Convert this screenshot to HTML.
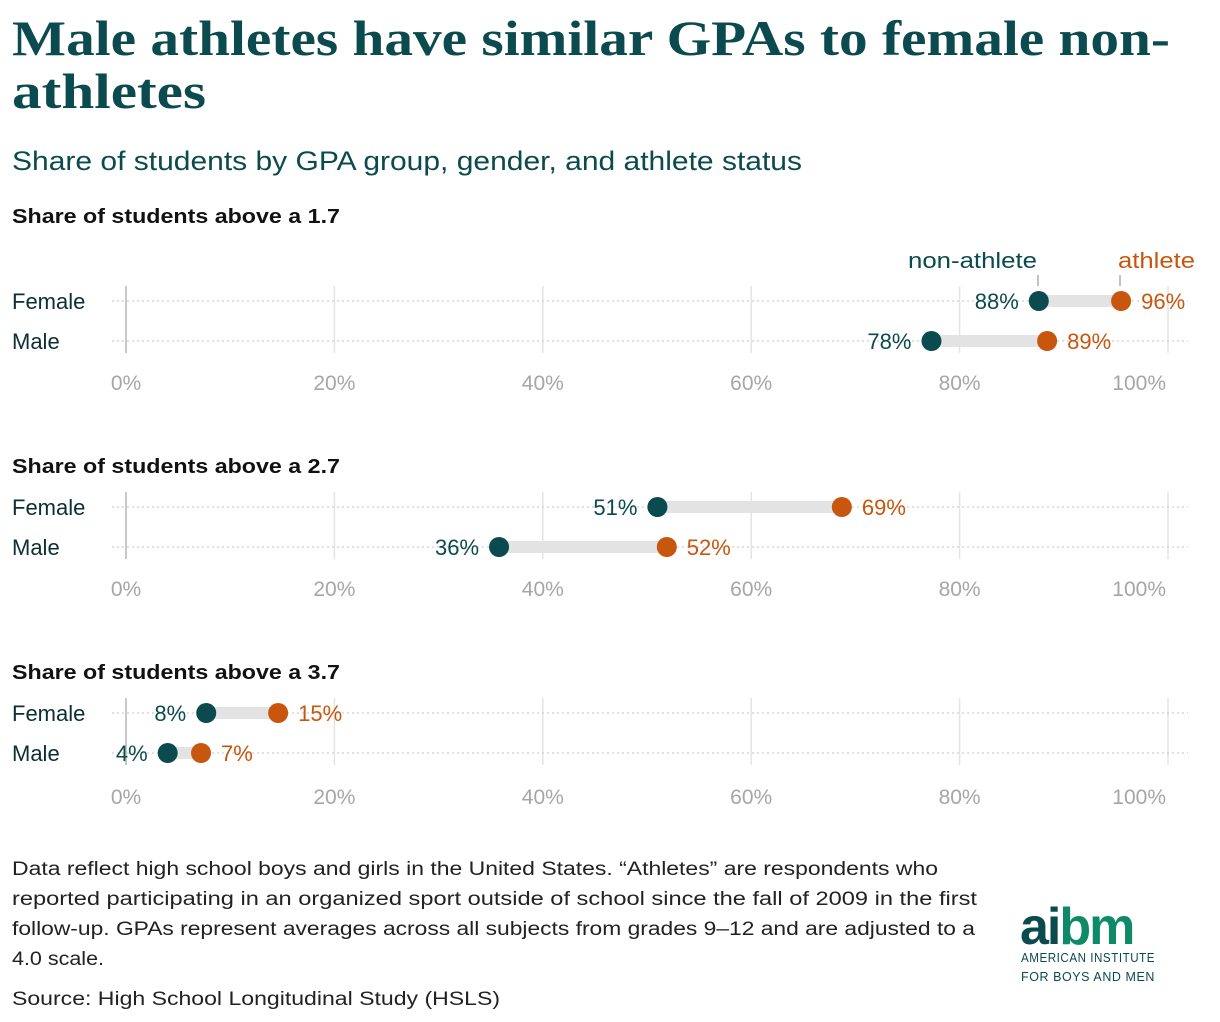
<!DOCTYPE html>
<html><head><meta charset="utf-8"><style>
html,body{margin:0;padding:0;background:#fff;}
svg{display:block;font-family:"Liberation Sans",sans-serif;}
</style></head><body>
<svg id="chart" width="1220" height="1022" viewBox="0 0 1220 1022" xmlns="http://www.w3.org/2000/svg">
<text x="12" y="55" font-family="Liberation Serif, serif" font-weight="bold" font-size="50" fill="#0b4a4e" textLength="1158" lengthAdjust="spacingAndGlyphs">Male athletes have similar GPAs to female non-</text>
<text x="12" y="108" font-family="Liberation Serif, serif" font-weight="bold" font-size="50" fill="#0b4a4e" textLength="194" lengthAdjust="spacingAndGlyphs">athletes</text>
<text x="12" y="170" font-size="27" fill="#0b4a4e" textLength="790" lengthAdjust="spacingAndGlyphs">Share of students by GPA group, gender, and athlete status</text>
<g id="panels"></g>
<g>
<text x="1037" y="268" text-anchor="end" font-size="22" fill="#0b4a4e" textLength="129" lengthAdjust="spacingAndGlyphs">non-athlete</text>
<line x1="1038" y1="275" x2="1038" y2="286" stroke="#999" stroke-width="1.2"/>
<text x="1118" y="268" font-size="22" fill="#c9560f" textLength="77" lengthAdjust="spacingAndGlyphs">athlete</text>
<line x1="1120" y1="275" x2="1120" y2="286" stroke="#999" stroke-width="1.2"/>
</g>
<g font-size="19" fill="#222">
<text x="12" y="875" textLength="926" lengthAdjust="spacingAndGlyphs">Data reflect high school boys and girls in the United States. “Athletes” are respondents who</text>
<text x="12" y="905" textLength="965" lengthAdjust="spacingAndGlyphs">reported participating in an organized sport outside of school since the fall of 2009 in the first</text>
<text x="12" y="935" textLength="963" lengthAdjust="spacingAndGlyphs">follow-up. GPAs represent averages across all subjects from grades 9–12 and are adjusted to a</text>
<text x="12" y="965" textLength="92" lengthAdjust="spacingAndGlyphs">4.0 scale.</text>
<text x="12" y="1005" textLength="488" lengthAdjust="spacingAndGlyphs">Source: High School Longitudinal Study (HSLS)</text>
</g>
<g>
<text x="1020" y="944" font-size="52" font-weight="bold" fill="#0b4a4e" letter-spacing="-2">ai<tspan fill="#0e8a68">bm</tspan></text>
<text x="1021" y="962" font-size="13" fill="#0b4a4e" letter-spacing="0.6" textLength="134" lengthAdjust="spacingAndGlyphs">AMERICAN INSTITUTE</text>
<text x="1021" y="981" font-size="13" fill="#0b4a4e" letter-spacing="0.6" textLength="134" lengthAdjust="spacingAndGlyphs">FOR BOYS AND MEN</text>
</g>
</svg>
<script>
const panelTitles = ["Share of students above a 1.7","Share of students above a 2.7","Share of students above a 3.7"];
const genders = ["Female","Male"];
const nonAthlete = [[87.6,77.3],[51.0,35.8],[7.7,4.0]];
const athlete = [[95.5,88.4],[68.7,51.9],[14.6,7.2]];
const nonAthleteLabels = [["88%","78%"],["51%","36%"],["8%","4%"]];
const athleteLabels = [["96%","89%"],["69%","52%"],["15%","7%"]];
const ticks = [0,20,40,60,80,100];
const tickLabels = ["0%","20%","40%","60%","80%","100%"];

const NS="http://www.w3.org/2000/svg";
const x = v => 126 + v*10.42;
const panelTop = [301,507,713];
const root=document.getElementById('panels');
function mk(tag,attrs,parent){const e=document.createElementNS(NS,tag);for(const k in attrs)e.setAttribute(k,attrs[k]);(parent||root).appendChild(e);return e;}
panelTitles.forEach((t,p)=>{
  const y0=panelTop[p];
  const g=mk('g',{});
  
  
  const h=mk('text',{x:12,y:y0-(p===0?78:34),'font-size':20,'font-weight':'bold',fill:'#111',textLength:328,lengthAdjust:'spacingAndGlyphs'},g);
  
  
  h.textContent=t;
  ticks.forEach((tv,i)=>{
    const l=mk('line',{x1:x(tv),x2:x(tv),y1:y0-15,y2:y0+52,stroke:i===0?'#c8c8c8':'#e4e4e4','stroke-width':i===0?2:1.5},g);
    
    
    const last=i===ticks.length-1;
    const tl=mk('text',{x:last?x(tv)-2:x(tv),y:y0+(p===2?91:89),'text-anchor':last?'end':'middle','font-size':21,fill:'#a6a6a6'},g);
    
    
    tl.textContent=tickLabels[i];
  });
  genders.forEach((gn,r)=>{
    const y=y0+r*40;
    const lab=mk('text',{x:12,y:y+8,'font-size':22,fill:'#0b2f33'},g);
    
    
    lab.textContent=gn;
    const d=mk('line',{x1:112,x2:1188,y1:y,y2:y,stroke:'#cfcfcf','stroke-width':1.2,'stroke-dasharray':'2 3'},g);
    
    
    const a=nonAthlete[p][r], b=athlete[p][r];
    const bar=mk('line',{x1:x(a),x2:x(b),y1:y,y2:y,stroke:'#e3e3e3','stroke-width':12},g);
    
    
    const c1=mk('circle',{cx:x(a),cy:y,r:10,fill:'#0b4a4e'},g);
    
    
    const c2=mk('circle',{cx:x(b),cy:y,r:10,fill:'#c9560f'},g);
    
    
    const t1=mk('text',{x:x(a)-20,y:y+8,'text-anchor':'end','font-size':22,fill:'#0b4a4e'},g);
    
    
    t1.textContent=nonAthleteLabels[p][r];
    const t2=mk('text',{x:x(b)+20,y:y+8,'font-size':22,fill:'#c9560f'},g);
    
    
    t2.textContent=athleteLabels[p][r];
  });
});
</script>
</body></html>
